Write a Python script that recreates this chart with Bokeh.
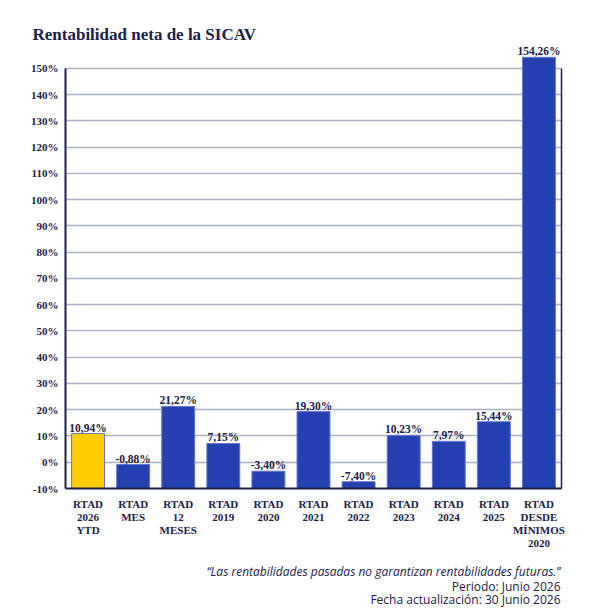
from bokeh.plotting import figure
from bokeh.layouts import column
from bokeh.models import (FactorRange, Range1d, FixedTicker, LinearAxis, Title,
                          ColumnDataSource)
from bokeh.core.properties import value
from bokeh.embed import file_html
from bokeh.resources import INLINE

# ---- data ----
categories = ["RTAD\n2026\nYTD", "RTAD\nMES", "RTAD\n12\nMESES", "RTAD\n2019",
              "RTAD\n2020", "RTAD\n2021", "RTAD\n2022", "RTAD\n2023",
              "RTAD\n2024", "RTAD\n2025", "RTAD\nDESDE\nMÍNIMOS\n2020"]
values = [10.94, -0.88, 21.27, 7.15, -3.40, 19.30, -7.40, 10.23, 7.97, 15.44, 154.26]
value_labels = ["10,94%", "-0,88%", "21,27%", "7,15%", "-3,40%", "19,30%",
                "-7,40%", "10,23%", "7,97%", "15,44%", "154,26%"]
y_ticks = [-10, 0, 10, 20, 30, 40, 50, 60, 70, 80, 90, 100, 110, 120, 130, 140, 150]
y_tick_labels = ["-10%", "0%", "10%", "20%", "30%", "40%", "50%", "60%", "70%",
                 "80%", "90%", "100%", "110%", "120%", "130%", "140%", "150%"]
title_text = "Rentabilidad neta de la SICAV"
footer_quote = "\u201cLas rentabilidades pasadas no garantizan rentabilidades futuras.\u201d"
footer_lines = ["Periodo: Junio 2026", "Fecha actualización: 30 Junio 2026"]

NAVY = "#1c2147"
BLUE = "#2540b0"
YELLOW = "#ffcc00"
GRID = "#adb1c6"
SERIF = "Liberation Serif"
SANS = "Open Sans"

W = 610
MAIN_H, FOOT_H = 552, 56
TOP, LEFT, RIGHT = 43, 65, 49
FRAME_BOTTOM = 489
FRAME_H = FRAME_BOTTOM - TOP

p = figure(width=W, height=MAIN_H, output_backend="svg", toolbar_location=None,
           title=None,
           x_range=FactorRange(factors=categories),
           y_range=Range1d(-10, -10 + FRAME_H / 2.631),
           min_border_left=LEFT, min_border_right=RIGHT,
           min_border_top=TOP, min_border_bottom=MAIN_H - FRAME_BOTTOM)
p.outline_line_color = None
p.background_fill_color = "white"
p.border_fill_color = "white"

colors = [YELLOW] + [BLUE] * (len(values) - 1)
src = ColumnDataSource(dict(x=categories, top=values, color=colors, lab=value_labels))

p.vbar(x="x", top="top", bottom=-10, width=0.73, fill_color="color",
       line_color="#6577cc", line_width=1, source=src)
p.text(x="x", y="top", text="lab", source=src, y_offset=-6,
       text_align="center", text_baseline="alphabetic",
       text_font=value(SERIF), text_font_style="bold", text_font_size="11.5px",
       text_color=NAVY)

p.xgrid.grid_line_color = None
p.ygrid.ticker = FixedTicker(ticks=y_ticks)
p.ygrid.grid_line_color = GRID
p.ygrid.grid_line_width = 1.5

ya = p.yaxis[0]
ya.ticker = FixedTicker(ticks=y_ticks)
ya.major_label_overrides = {t: l for t, l in zip(y_ticks, y_tick_labels)}
ya.bounds = (-10, 150)
ya.axis_line_color = NAVY
ya.axis_line_width = 2
ya.major_tick_line_color = None
ya.minor_tick_line_color = None
ya.major_tick_out = 0
ya.major_tick_in = 0
ya.major_label_standoff = 7
ya.major_label_text_font = SERIF
ya.major_label_text_font_style = "bold"
ya.major_label_text_font_size = "11px"
ya.major_label_text_color = NAVY

xa = p.xaxis[0]
xa.axis_line_color = NAVY
xa.axis_line_width = 2
xa.major_tick_line_color = None
xa.minor_tick_line_color = None
xa.major_tick_out = 0
xa.major_tick_in = 0
xa.major_label_standoff = 9
xa.major_label_text_font = SERIF
xa.major_label_text_font_style = "bold"
xa.major_label_text_font_size = "11px"
xa.major_label_text_color = NAVY
xa.major_label_text_line_height = 1.1

ra = LinearAxis(bounds=(-10, 150), ticker=FixedTicker(ticks=[]),
                axis_line_color=NAVY, axis_line_width=1.5,
                major_tick_line_color=None, minor_tick_line_color=None,
                major_tick_out=0, major_tick_in=0, major_label_standoff=0,
                major_label_text_font_size="0px")
p.add_layout(ra, "right")

# ---- title (above the frame, shifted left to x=32) ----
p.add_layout(Title(text=title_text, align="left", offset=-(LEFT - 32),
                   standoff=0, text_font=SERIF, text_font_style="bold",
                   text_font_size="17px", text_color=NAVY,
                   text_line_height=1.0), "above")

# ---- footer: a text-only strip whose frame lines up with the chart's ----
foot = figure(width=W, height=FOOT_H, output_backend="svg", toolbar_location=None,
              title=None, x_range=Range1d(LEFT, W - RIGHT),
              y_range=Range1d(FOOT_H, 0),
              x_axis_location=None, y_axis_location=None,
              min_border_left=LEFT, min_border_right=RIGHT,
              min_border_top=0, min_border_bottom=0)
foot.outline_line_color = None
foot.grid.visible = False
foot.background_fill_color = "white"
foot.border_fill_color = "white"
foot.text(x=[560], y=[19], text=[footer_quote], text_align="right",
          text_baseline="alphabetic", text_font=value(SANS),
          text_font_style="italic", text_font_size="12px", text_color=NAVY)
foot.text(x=[560, 560], y=[34, 47], text=footer_lines, text_align="right",
          text_baseline="alphabetic", text_font=value(SANS),
          text_font_style="normal", text_font_size="12px", text_color=NAVY)

layout = column(p, foot, spacing=0)
open("out.html", "w").write(file_html(layout, INLINE))
